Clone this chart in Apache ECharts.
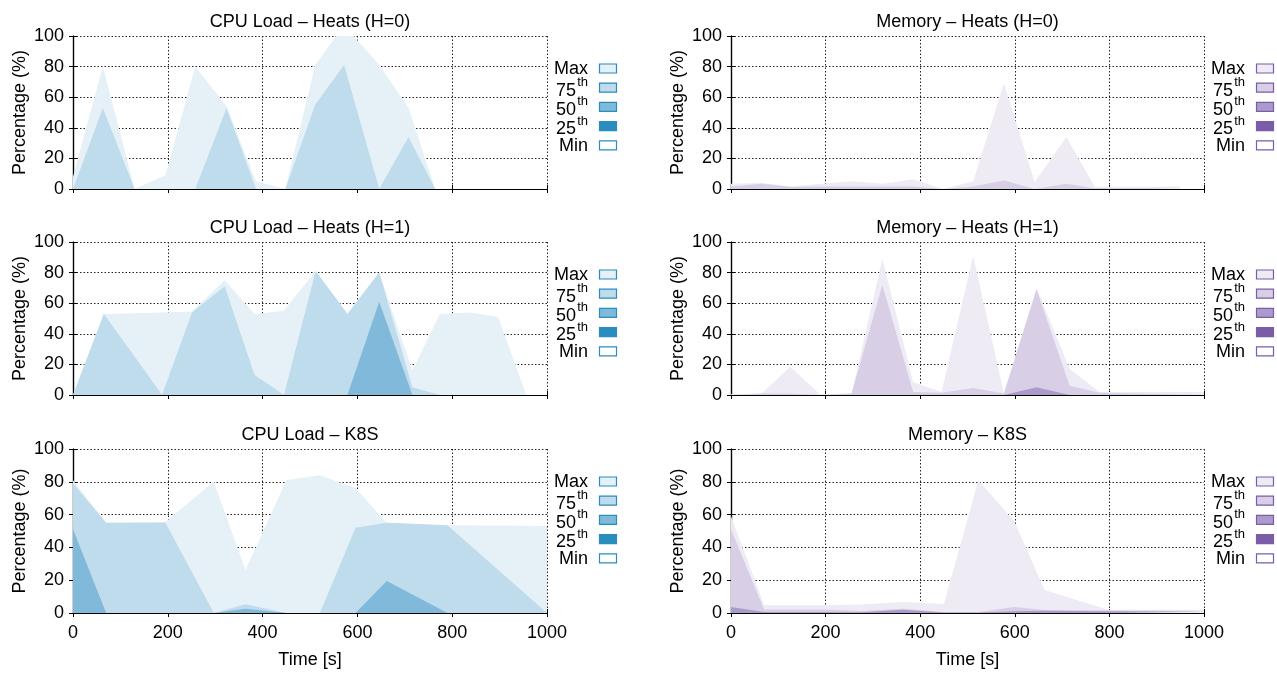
<!DOCTYPE html>
<html><head><meta charset="utf-8">
<script src="https://cdn.jsdelivr.net/npm/echarts@6/dist/echarts.min.js"></script>
<style>html,body{margin:0;padding:0;background:#fff}#c{width:1277px;height:673px}</style>
</head><body><div id="c"></div>
<script>
// ---------------- data ----------------
const levelNames = ['Max', '75th', '50th', '25th', 'Min'];
const xTicks = [0, 200, 400, 600, 800, 1000];
const yTicks = [0, 20, 40, 60, 80, 100];

const cpuH0Times = [0, 63, 130, 195, 258, 324, 386, 448, 511, 572, 646, 708, 764, 826, 885, 944];
const cpuH0Max   = [8, 80, 0, 9, 80, 54, 5, 0, 81, 107, 81, 53, 0, 0, 0, 0];
const cpuH0P75   = [0, 53, 0, 0, 0, 53, 0, 0, 55, 81, 0, 34, 0, 0, 0, 0];
const cpuH0P50   = [0, 0, 0, 0, 0, 0, 0, 0, 0, 0, 0, 0, 0, 0, 0, 0];
const cpuH0P25   = [0, 0, 0, 0, 0, 0, 0, 0, 0, 0, 0, 0, 0, 0, 0, 0];
const cpuH0Min   = [0, 0, 0, 0, 0, 0, 0, 0, 0, 0, 0, 0, 0, 0, 0, 0];

const memH0Times = [0, 65, 128, 192, 255, 322, 385, 448, 512, 577, 642, 709, 769, 829, 889, 949];
const memH0Max   = [3.5, 4, 1.7, 3.5, 5, 3.5, 6.3, 0, 5, 69, 4.5, 34, 1.5, 1.5, 1.5, 1.7];
const memH0P75   = [1.7, 3.5, 1.3, 1.7, 1.7, 1.7, 1.7, 0, 1.7, 5.5, 0, 3.5, 0.5, 0.5, 0.5, 1];
const memH0P50   = [0, 0, 0, 0, 0, 0, 0, 0, 0, 0, 0, 0, 0, 0, 0, 0];
const memH0P25   = [0, 0, 0, 0, 0, 0, 0, 0, 0, 0, 0, 0, 0, 0, 0, 0];
const memH0Min   = [0, 0, 0, 0, 0, 0, 0, 0, 0, 0, 0, 0, 0, 0, 0, 0];

const cpuH1Times = [0, 65, 128, 188, 251, 320, 383, 445, 512, 579, 646, 716, 774, 838, 897, 956];
const cpuH1Max   = [0, 53, 53.5, 54, 54.5, 75, 53, 55, 81, 53, 80, 16, 53, 54, 51, 0];
const cpuH1P75   = [0, 53, 26, 0, 54, 71, 13, 0, 81, 53, 80, 5, 0, 0, 0, 0];
const cpuH1P50   = [0, 0, 0, 0, 0, 0, 0, 0, 0, 0, 61, 0, 0, 0, 0, 0];
const cpuH1P25   = [0, 0, 0, 0, 0, 0, 0, 0, 0, 0, 0, 0, 0, 0, 0, 0];
const cpuH1Min   = [0, 0, 0, 0, 0, 0, 0, 0, 0, 0, 0, 0, 0, 0, 0, 0];

const memH1Times = [0, 65, 125, 188, 255, 320, 385, 445, 512, 577, 646, 716, 779, 850, 925, 1000];
const memH1Max   = [0.5, 1, 18.5, 0.5, 1, 89, 8.5, 2, 91, 1, 70, 17, 2, 2, 2, 2];
const memH1P75   = [0, 1, 1, 0, 1, 72, 2, 1.5, 4.5, 1, 69, 6, 1.5, 1, 0.5, 0.5];
const memH1P50   = [0, 0, 0, 0, 0, 0, 0, 0, 0, 0, 5, 0, 0, 0, 0, 0];
const memH1P25   = [0, 0, 0, 0, 0, 0, 0, 0, 0, 0, 0, 0, 0, 0, 0, 0];
const memH1Min   = [0, 0, 0, 0, 0, 0, 0, 0, 0, 0, 0, 0, 0, 0, 0, 0];

const cpuK8sTimes = [0, 70, 195, 297, 364, 450, 521, 596, 662, 790, 1000];
const cpuK8sMax   = [81, 55, 55.5, 80, 26, 81, 84, 76, 55, 53.5, 53];
const cpuK8sP75   = [79, 55, 55, 0, 5.3, 0, 0, 52, 55, 53.5, 0];
const cpuK8sP50   = [51, 0, 0, 0, 2.6, 0, 0, 0, 19.5, 0, 0];
const cpuK8sP25   = [0, 0, 0, 0, 0, 0, 0, 0, 0, 0, 0];
const cpuK8sMin   = [0, 0, 0, 0, 0, 0, 0, 0, 0, 0, 0];

const memK8sTimes = [0, 70, 199, 275, 364, 450, 523, 599, 663, 797, 1000];
const memK8sMax   = [59, 4.7, 4.7, 5.2, 6.7, 5.5, 81, 56, 14, 2, 2];
const memK8sP75   = [51, 2.2, 2.2, 1.2, 2.6, 0.6, 0.6, 3.6, 1.8, 1.6, 1.2];
const memK8sP50   = [3.6, 0.6, 0.6, 0.5, 2, 0.3, 0.3, 1, 1.4, 1, 0.8];
const memK8sP25   = [0, 0, 0, 0, 0, 0, 0, 0, 0, 0, 0];
const memK8sMin   = [0, 0, 0, 0, 0, 0, 0, 0, 0, 0, 0];

// ---------------- styling ----------------
const FONT = '"Liberation Sans", Arial, Helvetica, sans-serif';
const blues   = {fills: ['#e5f0f7', '#bfdcec', '#80b9d9', '#2b8cbe', '#ffffff'], edge: '#2b8cbe'};
const purples = {fills: ['#eeebf5', '#d8cfe6', '#ab9bcc', '#7a5ca9', '#ffffff'], edge: '#7a5ca9'};

const cols = [{left: 73, width: 474}, {left: 731, width: 473}];
const rows = [{top: 36, height: 153}, {top: 242, height: 153}, {top: 449, height: 164}];

const panels = [
  {title: 'CPU Load \u2013 Heats (H=0)', row: 0, col: 0, pal: blues,   t: cpuH0Times,  s: [cpuH0Max, cpuH0P75, cpuH0P50, cpuH0P25, cpuH0Min]},
  {title: 'Memory \u2013 Heats (H=0)',   row: 0, col: 1, pal: purples, t: memH0Times,  s: [memH0Max, memH0P75, memH0P50, memH0P25, memH0Min]},
  {title: 'CPU Load \u2013 Heats (H=1)', row: 1, col: 0, pal: blues,   t: cpuH1Times,  s: [cpuH1Max, cpuH1P75, cpuH1P50, cpuH1P25, cpuH1Min]},
  {title: 'Memory \u2013 Heats (H=1)',   row: 1, col: 1, pal: purples, t: memH1Times,  s: [memH1Max, memH1P75, memH1P50, memH1P25, memH1Min]},
  {title: 'CPU Load \u2013 K8S',         row: 2, col: 0, pal: blues,   t: cpuK8sTimes, s: [cpuK8sMax, cpuK8sP75, cpuK8sP50, cpuK8sP25, cpuK8sMin]},
  {title: 'Memory \u2013 K8S',           row: 2, col: 1, pal: purples, t: memK8sTimes, s: [memK8sMax, memK8sP75, memK8sP50, memK8sP25, memK8sMin]}
];

const grid = [], xAxis = [], yAxis = [], series = [], graphic = [];
const tickStyle = {show: true, inside: true, length: 4, lineStyle: {color: '#000', width: 1}};
const lineStyle = {show: true, lineStyle: {color: '#000', width: 1.2}};
const gridLine = {show: true, lineStyle: {color: '#222', width: 1, type: [1.5, 2]}};
const plainNum = v => String(v);

panels.forEach((p, i) => {
  const c = cols[p.col], r = rows[p.row];
  grid.push({left: c.left, top: r.top, width: c.width, height: r.height, containLabel: false});
  const bottomRow = p.row === 2;
  // bottom x axis
  xAxis.push({
    type: 'value', gridIndex: i, min: xTicks[0], max: xTicks[xTicks.length - 1], interval: 200, position: 'bottom',
    axisLine: lineStyle, axisTick: tickStyle, splitLine: gridLine,
    axisLabel: {show: bottomRow, margin: 11, fontSize: 18, color: '#000', fontFamily: FONT, formatter: plainNum},
    name: bottomRow ? 'Time [s]' : '', nameLocation: 'middle', nameGap: 38,
    nameTextStyle: {fontSize: 18, color: '#000', fontFamily: FONT}
  });
  // top mirror x axis
  xAxis.push({
    type: 'value', gridIndex: i, min: 0, max: 1000, interval: 200, position: 'top',
    axisLine: lineStyle, axisTick: tickStyle, splitLine: {show: false}, axisLabel: {show: false}
  });
  // left y axis
  yAxis.push({
    type: 'value', gridIndex: i, min: yTicks[0], max: yTicks[yTicks.length - 1], interval: 20, position: 'left',
    axisLine: lineStyle, axisTick: tickStyle, splitLine: gridLine,
    axisLabel: {margin: 9, fontSize: 18, color: '#000', fontFamily: FONT, formatter: plainNum},
    name: 'Percentage (%)', nameLocation: 'middle', nameGap: 44, nameRotate: 90,
    nameTextStyle: {fontSize: 18, color: '#000', fontFamily: FONT}
  });
  // right mirror y axis
  yAxis.push({
    type: 'value', gridIndex: i, min: 0, max: 100, interval: 20, position: 'right',
    axisLine: lineStyle, axisTick: tickStyle, splitLine: {show: false}, axisLabel: {show: false}
  });

  p.s.forEach((vals, k) => {
    series.push({
      name: levelNames[k], type: 'line', xAxisIndex: 2 * i, yAxisIndex: 2 * i,
      data: p.t.map((t, j) => [t, vals[j]]),
      symbol: 'none', showSymbol: false, silent: true, animation: false,
      lineStyle: {width: 0, color: p.pal.fills[k]},
      areaStyle: {color: p.pal.fills[k], opacity: 1},
      clip: true
    });
  });

  // title
  graphic.push({
    type: 'text', x: c.left + c.width / 2, y: r.top - 14, silent: true,
    style: {text: p.title, align: 'center', verticalAlign: 'middle', fill: '#000', font: '18px ' + FONT}
  });

  // legend
  const R = c.left + c.width;
  levelNames.forEach((nm, k) => {
    const cy = r.top + 32.5 + 19.2 * k;
    graphic.push({
      type: 'rect', silent: true,
      shape: {x: R + 52.5, y: cy - 4.5, width: 17, height: 9},
      style: {fill: p.pal.fills[k], stroke: p.pal.edge, lineWidth: 1.2}
    });
    const m = nm.match(/^(\d+)(th)$/);
    if (m) {
      graphic.push({type: 'text', silent: true, x: R + 41, y: cy - 5,
        style: {text: m[2], align: 'right', verticalAlign: 'middle', fill: '#000', font: '13px ' + FONT}});
      graphic.push({type: 'text', silent: true, x: R + 41 - 12, y: cy + 3,
        style: {text: m[1], align: 'right', verticalAlign: 'middle', fill: '#000', font: '18px ' + FONT}});
    } else {
      graphic.push({type: 'text', silent: true, x: R + 41, y: cy + 1,
        style: {text: nm, align: 'right', verticalAlign: 'middle', fill: '#000', font: '18px ' + FONT}});
    }
  });
});

const chart = echarts.init(document.getElementById('c'), null, {renderer: 'canvas'});
chart.setOption({
  animation: false,
  backgroundColor: '#fff',
  textStyle: {fontFamily: FONT},
  grid, xAxis, yAxis, series, graphic
});
</script></body></html>
